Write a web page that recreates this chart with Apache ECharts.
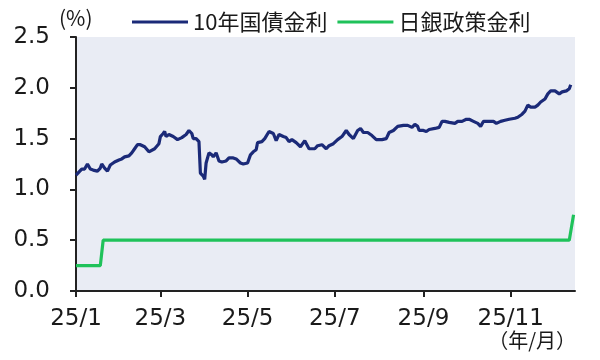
<!DOCTYPE html>
<html><head><meta charset="utf-8">
<script src="https://cdn.jsdelivr.net/npm/echarts@6/dist/echarts.min.js"></script>
<style>html,body{margin:0;padding:0;background:#fff}#c{width:600px;height:360px}</style>
</head><body><div id="c"></div>
<script>
const YEAR = '2025';
const bondDates = ['01-01','01-03','01-05','01-07','01-09','01-11','01-13','01-16','01-18','01-19','01-21','01-23','01-25','01-28','01-31',
'02-02','02-04','02-07','02-09','02-11','02-13','02-15','02-18','02-21','02-22','02-25','02-28',
'03-01','03-03','03-04','03-05','03-07','03-10','03-13','03-16','03-19','03-21','03-23','03-24','03-26','03-28','03-29','03-31',
'04-01','04-02','04-04','04-06','04-07','04-09','04-11','04-13','04-16','04-18','04-21','04-23','04-26','04-28',
'05-01','05-03','05-05','05-07','05-08','05-11','05-13','05-16','05-19','05-21','05-23','05-26','05-28','05-30',
'06-01','06-04','06-07','06-10','06-13','06-17','06-19','06-22','06-25','06-27','06-30',
'07-03','07-06','07-09','07-11','07-14','07-17','07-19','07-21','07-24','07-27','07-30',
'08-03','08-06','08-08','08-11','08-14','08-18','08-21','08-24','08-26','08-28','08-29',
'09-01','09-03','09-05','09-09','09-12','09-14','09-16','09-19','09-23','09-25','09-28',
'10-01','10-03','10-06','10-09','10-11','10-13','10-16','10-20','10-22','10-25','10-28','10-31',
'11-04','11-06','11-09','11-11','11-13','11-15','11-18','11-20','11-22','11-25','11-27','11-29',
'12-02','12-05','12-07','12-10','12-12','12-13'];
const bondValues = [1.14,1.17,1.20,1.20,1.25,1.20,1.19,1.18,1.21,1.25,1.21,1.18,1.24,1.27,1.29,
1.30,1.32,1.33,1.36,1.40,1.44,1.44,1.42,1.37,1.37,1.40,1.45,
1.52,1.55,1.57,1.52,1.54,1.52,1.49,1.51,1.54,1.58,1.55,1.50,1.50,1.47,1.16,1.13,
1.10,1.26,1.36,1.34,1.32,1.36,1.28,1.27,1.28,1.31,1.31,1.30,1.26,1.25,
1.26,1.34,1.37,1.39,1.46,1.47,1.50,1.57,1.55,1.48,1.54,1.52,1.51,1.47,
1.49,1.46,1.42,1.48,1.40,1.40,1.43,1.44,1.40,1.43,1.45,
1.49,1.52,1.58,1.54,1.50,1.58,1.60,1.56,1.56,1.53,1.49,
1.49,1.50,1.56,1.58,1.62,1.63,1.63,1.61,1.64,1.62,1.58,
1.58,1.57,1.59,1.60,1.61,1.67,1.67,1.66,1.65,1.67,1.67,
1.69,1.69,1.67,1.65,1.62,1.67,1.67,1.67,1.65,1.67,1.68,1.69,
1.70,1.71,1.74,1.77,1.83,1.81,1.81,1.83,1.86,1.89,1.94,1.97,
1.97,1.94,1.96,1.97,1.99,2.03];
const policyDates = ['01-01','01-18','01-20','12-12','12-15'];
const policyValues = [0.25,0.25,0.50,0.50,0.75];
const tickDates = ['01-01','03-01','05-01','07-01','09-01','11-01'];
const tickLabels = ['25/1','25/3','25/5','25/7','25/9','25/11'];
const axisStart = '01-01', axisEnd = '12-16';
const seriesNames = ['10年国債金利','日銀政策金利'];

function ts(md){ const [m,d] = md.split('-').map(Number); return Date.UTC(+YEAR, m-1, d); }
const tickTs = tickDates.map(ts);
const chart = echarts.init(document.getElementById('c'));
const txt = '#1a1a1a';
chart.setOption({
  animation: false,
  textStyle: {fontFamily: 'DejaVu Sans'},
  grid: {left: 76, right: 25, top: 37, bottom: 69, show: true, backgroundColor: '#E9ECF4', borderWidth: 0},
  legend: {
    top: 11, left: 132, itemWidth: 56, itemHeight: 3, itemGap: 10, icon: 'rect', padding: 0,
    textStyle: {fontSize: 22, color: txt, fontFamily: 'Noto Sans CJK JP'},
    data: seriesNames
  },
  xAxis: {
    type: 'value', min: ts(axisStart), max: ts(axisEnd),
    axisLine: {show: true, lineStyle: {color: '#222', width: 2}},
    axisTick: {show: true, length: 6, lineStyle: {color: '#222', width: 2}, customValues: tickTs},
    splitLine: {show: false},
    axisLabel: {customValues: tickTs, fontSize: 23, color: txt, margin: 17,
      formatter: v => { const i = tickTs.indexOf(v); return i >= 0 ? tickLabels[i] : ''; }}
  },
  yAxis: {
    type: 'value', min: 0, max: 2.5, interval: 0.5,
    axisLine: {show: true, lineStyle: {color: '#222', width: 2}},
    axisTick: {show: true, length: 6, lineStyle: {color: '#222', width: 2}},
    splitLine: {show: false},
    axisLabel: {fontSize: 23, color: txt, margin: 26, formatter: v => v.toFixed(1)}
  },
  graphic: [
    {type: 'text', left: 59, top: 8, style: {text: '(%)', fontSize: 21, fill: txt, fontFamily: 'Noto Sans CJK JP'}},
    {type: 'text', right: 24, top: 330, style: {text: '（年/月）', fontSize: 20, fill: txt, fontFamily: 'Noto Sans CJK JP'}}
  ],
  series: [
    {name: seriesNames[0], type: 'line', showSymbol: false, symbol: 'none', color: '#1B2A78',
     lineStyle: {width: 3.2, color: '#1B2A78'},
     data: bondDates.map((d,i) => [ts(d), bondValues[i]])},
    {name: seriesNames[1], type: 'line', showSymbol: false, symbol: 'none', color: '#1FC25A',
     lineStyle: {width: 3.2, color: '#1FC25A'},
     data: policyDates.map((d,i) => [ts(d), policyValues[i]])}
  ]
});
</script></body></html>
